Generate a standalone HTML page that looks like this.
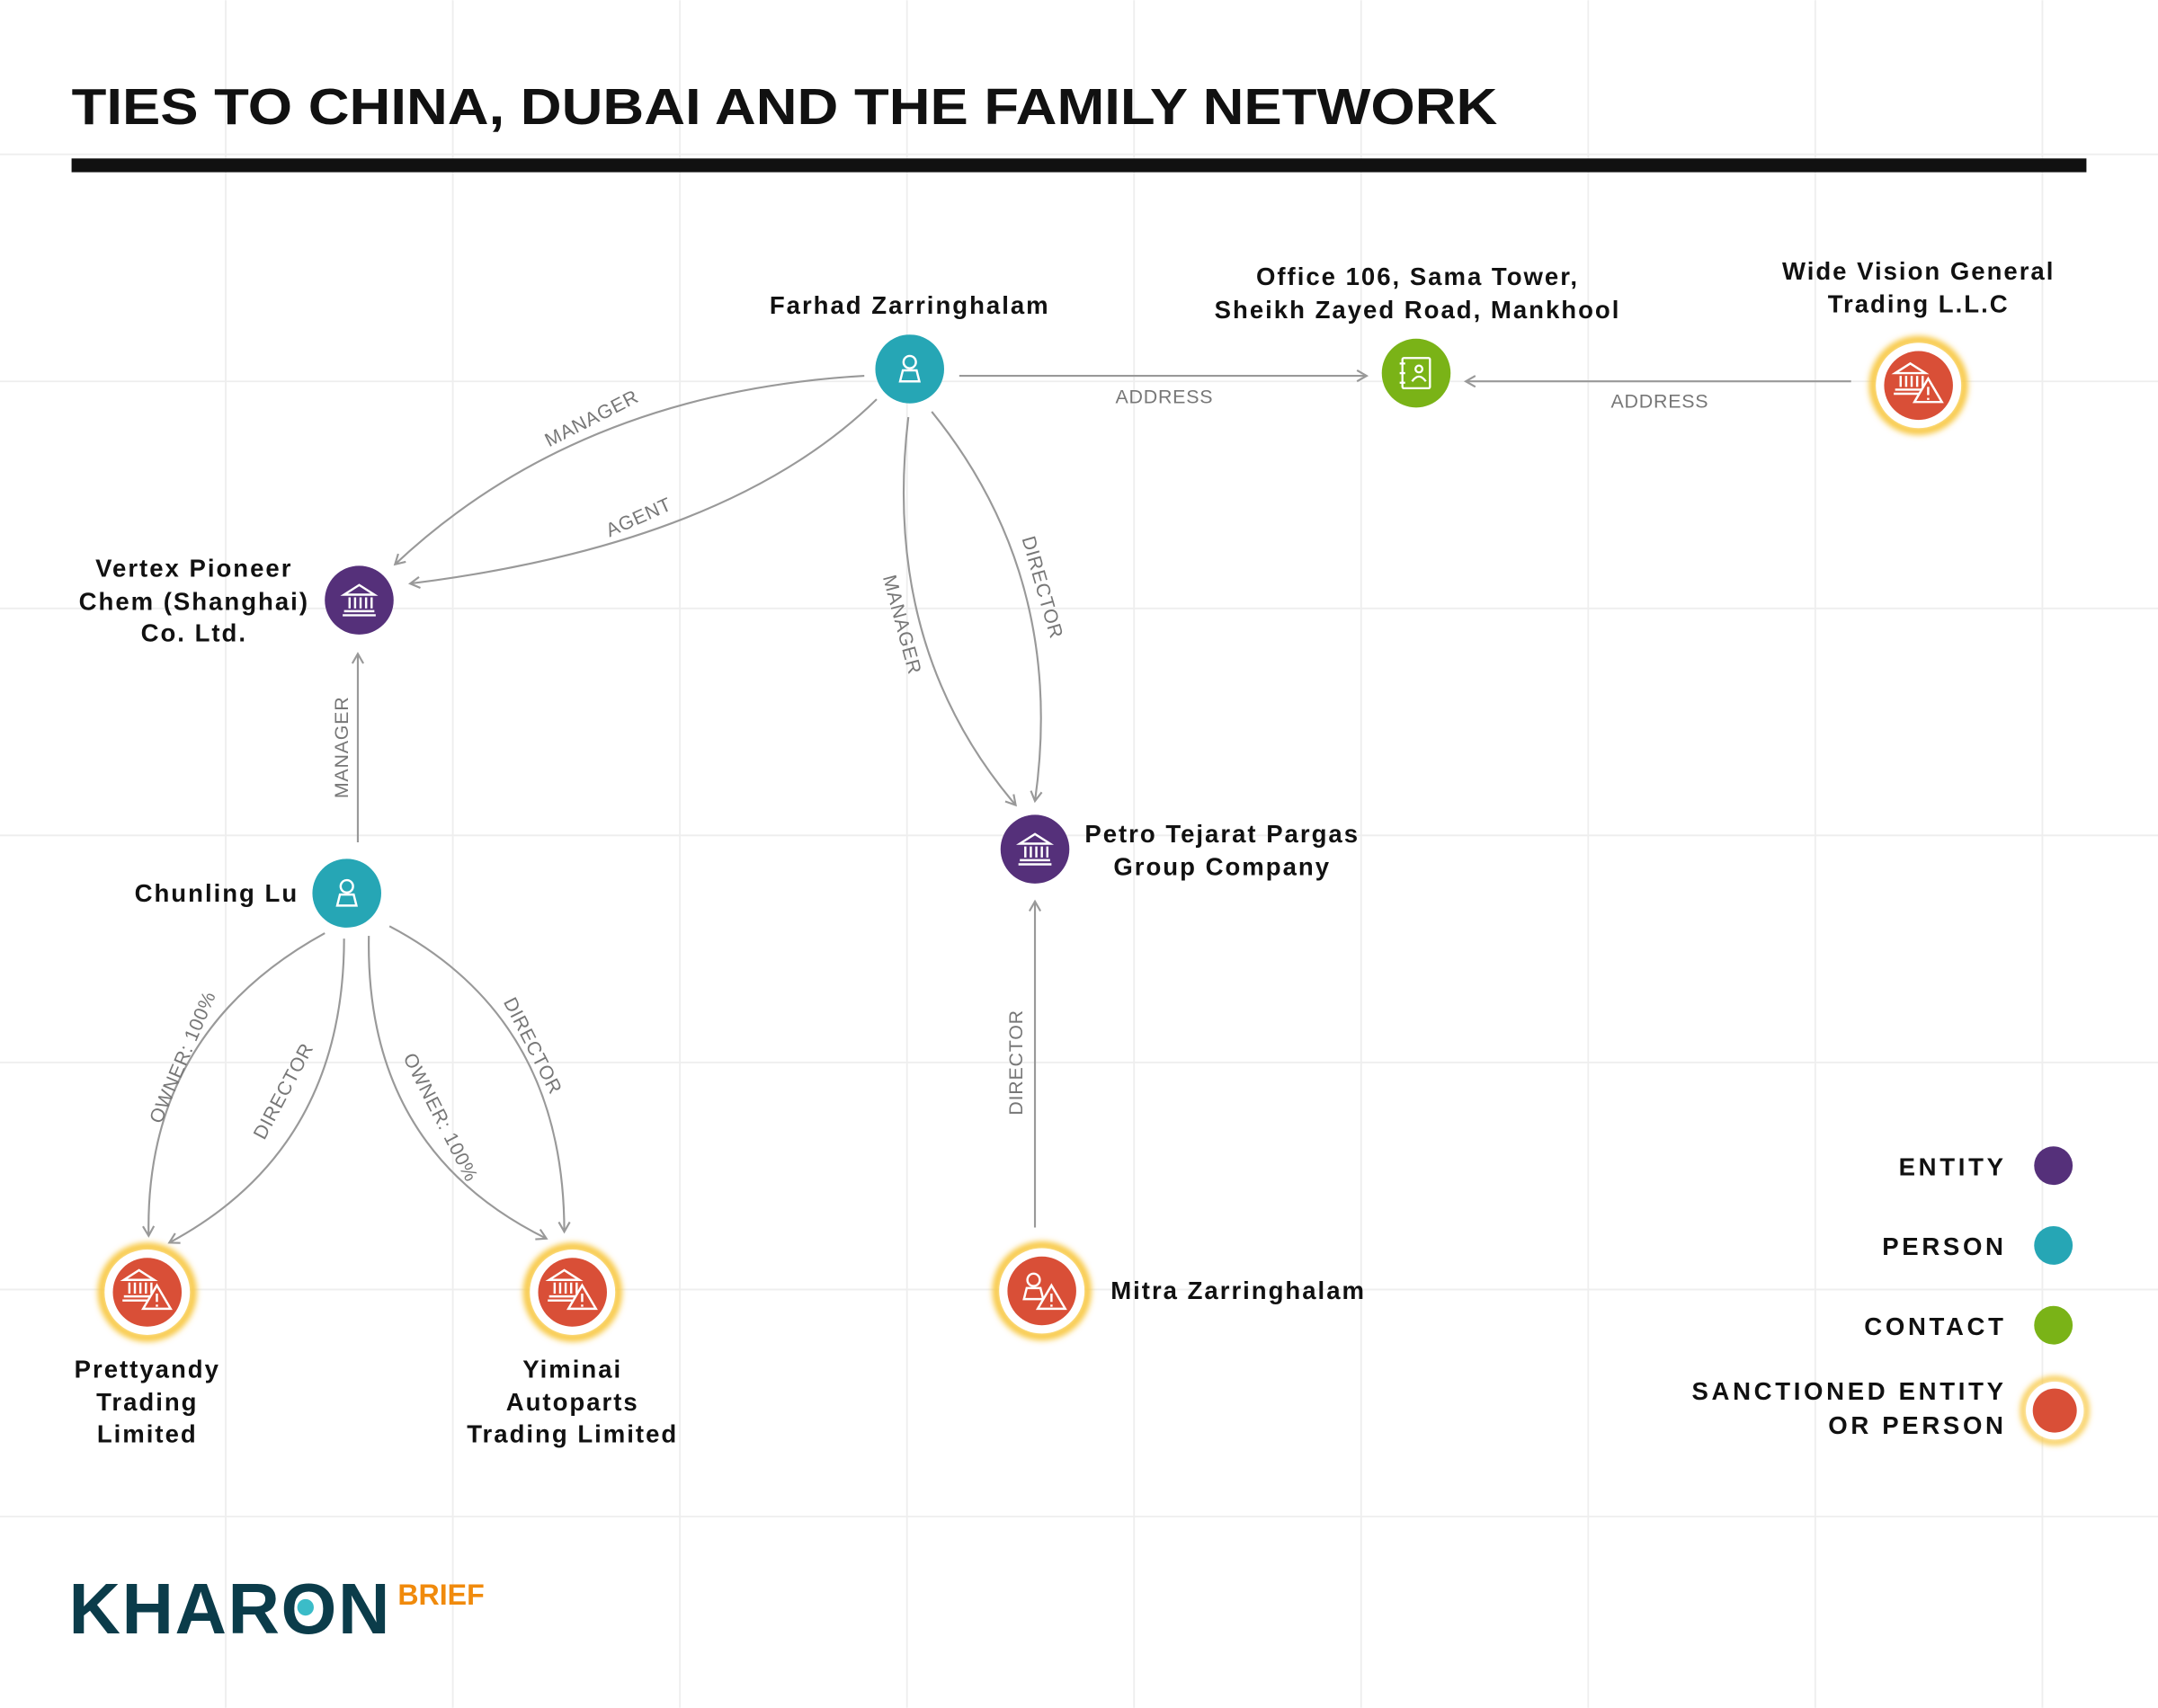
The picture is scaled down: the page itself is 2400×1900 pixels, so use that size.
<!DOCTYPE html>
<html><head><meta charset="utf-8"><style>
html,body{margin:0;padding:0;background:#fff;}
svg{display:block}
.t{font-family:"Liberation Sans",sans-serif;font-weight:bold;fill:#111;font-size:18px;letter-spacing:1.3px}
.lg{letter-spacing:2.4px}
.e{font-family:"Liberation Sans",sans-serif;fill:#777;font-size:14px;letter-spacing:0.5px}
.ln{fill:none;stroke:#999;stroke-width:1.4}
</style></head><body>
<svg width="2400" height="1900" viewBox="0 0 1568 1241" xmlns="http://www.w3.org/2000/svg">
<defs>
<marker id="a" markerWidth="10" markerHeight="10" refX="8" refY="5" orient="auto" markerUnits="userSpaceOnUse"><path d="M1,1 L8,5 L1,9" fill="none" stroke="#999" stroke-width="1.4"/></marker>
<filter id="b" x="-50%" y="-50%" width="200%" height="200%"><feGaussianBlur stdDeviation="2"/></filter>
<g id="per"><circle cx="0" cy="-5" r="4.5" fill="none" stroke="#fff" stroke-width="1.6"/><path d="M-7,9 L-5,1 L5,1 L7,9 Z" fill="none" stroke="#fff" stroke-width="1.6"/></g>
<g id="bank" fill="none" stroke="#fff" stroke-width="1.6"><path d="M-11,-4 L0,-11 L11,-4 Z"/><path d="M-7,-2 V6 M-3,-2 V6 M1,-2 V6 M5,-2 V6 M9,-2 V6"/><path d="M-11,8 H11 M-12,11 H12"/></g>
<g id="warn" fill="#d94f37" stroke="#fff" stroke-width="1.6"><path d="M0,-9 L10,8 L-10,8 Z"/><path d="M0,-3 V3 M0,5 V6.5"/></g>
<g id="halo"><circle r="33" fill="none" stroke="#f8c843" stroke-width="6" filter="url(#b)"/><circle r="31" fill="#fff"/><circle r="25" fill="#d94f37"/></g>
</defs>
<rect width="1568" height="1241" fill="#fff"/>
<g stroke="#eee" stroke-width="1.2">
<path d="M164,0V1241M329,0V1241M494,0V1241M659,0V1241M824,0V1241M989,0V1241M1154,0V1241M1319,0V1241M1484,0V1241"/>
<path d="M0,112H1568M0,277H1568M0,442H1568M0,607H1568M0,772H1568M0,937H1568M0,1102H1568"/>
</g>
<text x="52" y="90" font-family="Liberation Sans,sans-serif" font-weight="bold" font-size="37" fill="#111" textLength="1036" lengthAdjust="spacingAndGlyphs">TIES TO CHINA, DUBAI AND THE FAMILY NETWORK</text>
<rect x="52" y="115" width="1464" height="10" fill="#111"/>

<path class="ln" d="M697,273 L993,273" marker-end="url(#a)"/>
<text class="e" x="846" y="293" text-anchor="middle">ADDRESS</text>
<path class="ln" d="M1345,277 L1065,277" marker-end="url(#a)"/>
<text class="e" x="1206" y="296" text-anchor="middle">ADDRESS</text>
<path class="ln" d="M628,273 Q420,285 287,410" marker-end="url(#a)"/>
<text class="e" transform="translate(432,308) rotate(-27)" text-anchor="middle">MANAGER</text>
<path class="ln" d="M637,290 Q530,395 298,424" marker-end="url(#a)"/>
<text class="e" transform="translate(466,380) rotate(-24)" text-anchor="middle">AGENT</text>
<path class="ln" d="M660,303 Q640,470 738,585" marker-end="url(#a)"/>
<text class="e" transform="translate(651,455) rotate(75)" text-anchor="middle">MANAGER</text>
<path class="ln" d="M677,299 Q775,420 752,582" marker-end="url(#a)"/>
<text class="e" transform="translate(753,428) rotate(74)" text-anchor="middle">DIRECTOR</text>
<path class="ln" d="M260,612 L260,475" marker-end="url(#a)"/>
<text class="e" transform="translate(253,543) rotate(-90)" text-anchor="middle">MANAGER</text>
<path class="ln" d="M752,892 L752,655" marker-end="url(#a)"/>
<text class="e" transform="translate(743,772) rotate(-90)" text-anchor="middle">DIRECTOR</text>
<path class="ln" d="M236,678 Q105,750 108,898" marker-end="url(#a)"/>
<text class="e" transform="translate(137,770) rotate(-67)" text-anchor="middle">OWNER: 100%</text>
<path class="ln" d="M250,682 Q250,835 123,903" marker-end="url(#a)"/>
<text class="e" transform="translate(210,795) rotate(-62)" text-anchor="middle">DIRECTOR</text>
<path class="ln" d="M268,680 Q265,835 397,900" marker-end="url(#a)"/>
<text class="e" transform="translate(316,814) rotate(63)" text-anchor="middle">OWNER: 100%</text>
<path class="ln" d="M283,673 Q410,740 410,895" marker-end="url(#a)"/>
<text class="e" transform="translate(383,762) rotate(63)" text-anchor="middle">DIRECTOR</text>

<circle cx="661" cy="268" r="25" fill="#26a6b5"/><use href="#per" x="661" y="268"/>
<text class="t" x="661" y="228" text-anchor="middle">Farhad Zarringhalam</text>
<circle cx="1029" cy="271" r="25" fill="#7ab317"/>
<g fill="none" stroke="#fff" stroke-width="1.5"><rect x="1019" y="260" width="20" height="22" rx="1"/><circle cx="1031" cy="268" r="2.5"/><path d="M1026,277 Q1031,270 1036,277 M1017,264 H1021 M1017,271 H1021 M1017,278 H1021"/></g>
<text class="t" x="1030" y="207" text-anchor="middle">Office 106, Sama Tower,</text>
<text class="t" x="1030" y="231" text-anchor="middle">Sheikh Zayed Road, Mankhool</text>
<use href="#halo" x="1394" y="280"/><use href="#bank" x="1388" y="275"/><use href="#warn" x="1401" y="284"/>
<text class="t" x="1394" y="203" text-anchor="middle">Wide Vision General</text>
<text class="t" x="1394" y="227" text-anchor="middle">Trading L.L.C</text>
<circle cx="261" cy="436" r="25" fill="#55307a"/><use href="#bank" x="261" y="436"/>
<text class="t" x="141" y="419" text-anchor="middle">Vertex Pioneer</text>
<text class="t" x="141" y="443" text-anchor="middle">Chem (Shanghai)</text>
<text class="t" x="141" y="466" text-anchor="middle">Co. Ltd.</text>
<circle cx="752" cy="617" r="25" fill="#55307a"/><use href="#bank" x="752" y="617"/>
<text class="t" x="888" y="612" text-anchor="middle">Petro Tejarat Pargas</text>
<text class="t" x="888" y="636" text-anchor="middle">Group Company</text>
<circle cx="252" cy="649" r="25" fill="#26a6b5"/><use href="#per" x="252" y="649"/>
<text class="t" x="217" y="655" text-anchor="end">Chunling Lu</text>
<use href="#halo" x="107" y="939"/><use href="#bank" x="101" y="934"/><use href="#warn" x="114" y="943"/>
<text class="t" x="107" y="1001" text-anchor="middle">Prettyandy</text>
<text class="t" x="107" y="1025" text-anchor="middle">Trading</text>
<text class="t" x="107" y="1048" text-anchor="middle">Limited</text>
<use href="#halo" x="416" y="939"/><use href="#bank" x="410" y="934"/><use href="#warn" x="423" y="943"/>
<text class="t" x="416" y="1001" text-anchor="middle">Yiminai</text>
<text class="t" x="416" y="1025" text-anchor="middle">Autoparts</text>
<text class="t" x="416" y="1048" text-anchor="middle">Trading Limited</text>
<use href="#halo" x="757" y="938"/><use href="#per" x="751" y="935"/><use href="#warn" x="764" y="943"/>
<text class="t" x="807" y="944">Mitra Zarringhalam</text>

<text class="t lg" x="1458" y="854" text-anchor="end">ENTITY</text>
<circle cx="1492" cy="847" r="14" fill="#55307a"/>
<text class="t lg" x="1458" y="912" text-anchor="end">PERSON</text>
<circle cx="1492" cy="905" r="14" fill="#26a6b5"/>
<text class="t lg" x="1458" y="970" text-anchor="end">CONTACT</text>
<circle cx="1492" cy="963" r="14" fill="#7ab317"/>
<text class="t lg" x="1458" y="1017" text-anchor="end">SANCTIONED ENTITY</text>
<text class="t lg" x="1458" y="1042" text-anchor="end">OR PERSON</text>
<circle cx="1493" cy="1025" r="23" fill="none" stroke="#f8c843" stroke-width="4" filter="url(#b)"/>
<circle cx="1493" cy="1025" r="21" fill="#fff"/>
<circle cx="1493" cy="1025" r="16" fill="#d94f37"/>

<text x="50" y="1187" font-family="Liberation Sans,sans-serif" font-weight="bold" font-size="52" fill="#0b3c4a" letter-spacing="1">KHARON</text>
<circle cx="222" cy="1168" r="6" fill="#3bbcc8"/>
<text x="289" y="1166" font-family="Liberation Sans,sans-serif" font-weight="bold" font-size="21" fill="#f08a0c">BRIEF</text>
</svg>
</body></html>
